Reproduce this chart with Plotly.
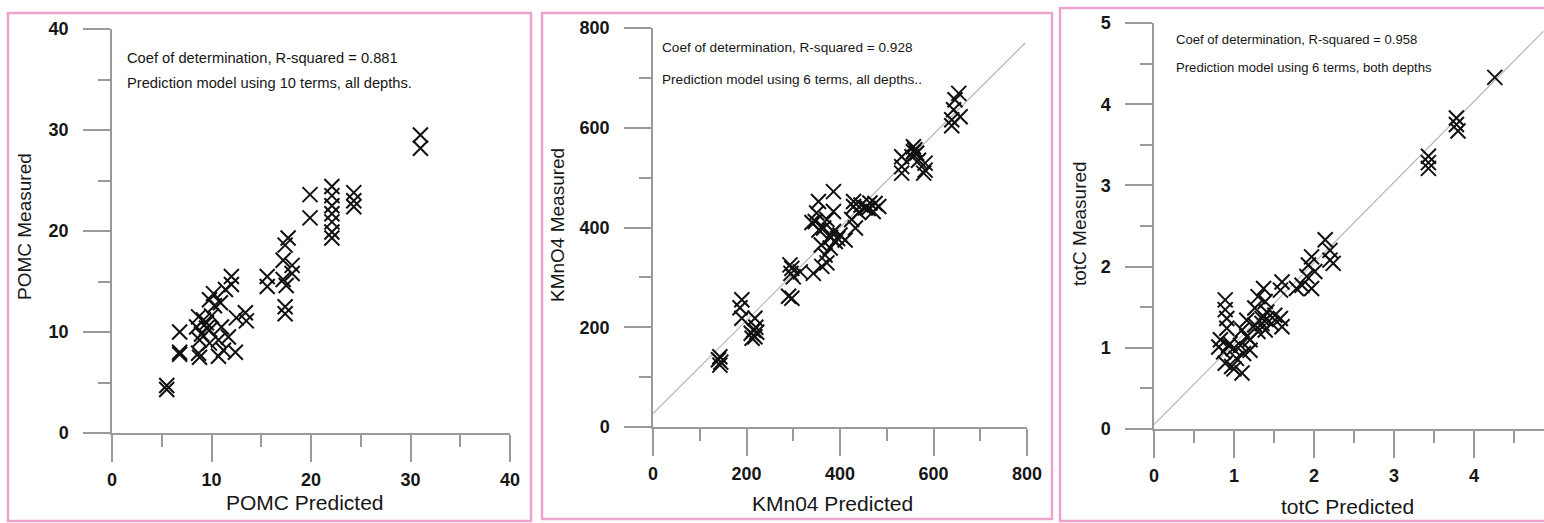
import plotly.graph_objects as go

W, H = 1544, 523

# ---------------- data ----------------
pomc_predicted = [31.0, 31.0, 24.3, 24.3, 24.3, 19.9, 19.9, 22.1, 22.1, 22.1, 22.1, 22.1, 22.1, 22.1,
                  17.7, 17.4, 17.2, 18.1, 18.1, 17.2, 17.5, 15.6, 15.6, 17.4, 17.4, 12.0, 12.0, 10.2,
                  9.8, 11.4, 10.9, 13.4, 13.5, 12.5, 8.7, 9.5, 8.5, 9.8, 11.0, 11.7, 8.8, 9.8, 6.8,
                  6.8, 6.8, 8.7, 11.2, 12.4, 10.7, 8.8, 10.7, 5.5, 5.5, 9.2, 10.3, 9.5, 10.0, 9.0]
pomc_measured = [29.5, 28.2, 23.8, 23.0, 22.4, 23.6, 21.3, 24.4, 23.5, 22.5, 21.7, 20.9, 19.9, 19.3,
                 19.3, 18.6, 17.1, 16.6, 15.8, 15.2, 14.6, 15.5, 14.5, 12.5, 11.8, 15.5, 14.7, 13.8,
                 13.2, 14.2, 12.9, 11.9, 11.1, 11.4, 11.5, 10.9, 10.5, 10.2, 10.5, 9.5, 9.2, 8.9, 10.0,
                 8.0, 7.8, 7.9, 8.2, 8.0, 7.6, 7.5, 9.2, 4.7, 4.3, 11.2, 12.6, 10.4, 11.6, 9.8]

kmno4_predicted = [654, 646, 657, 643, 639, 639, 557, 557, 564, 554, 568, 560, 582, 582, 579,
                   532, 532, 532, 386, 354, 386, 350, 347, 372, 365, 386, 400, 411, 390, 379,
                   368, 372, 361, 343, 429, 429, 425, 433, 464, 483, 454, 471, 445, 460, 475,
                   440, 297, 300, 297, 315, 293, 290, 295, 190, 186, 190, 218, 215, 218, 210,
                   222, 212, 220, 143, 143, 140, 145, 340, 355, 380, 395, 360]
kmno4_measured = [669, 656, 622, 636, 616, 604, 562, 552, 549, 542, 535, 556, 529, 515, 509,
                  542, 522, 509, 472, 452, 432, 429, 412, 416, 399, 392, 385, 375, 372, 359,
                  345, 329, 322, 308, 452, 442, 416, 399, 449, 442, 439, 432, 445, 438, 448,
                  430, 318, 301, 258, 311, 325, 262, 308, 255, 239, 218, 218, 194, 181, 188,
                  190, 178, 200, 141, 124, 135, 130, 410, 395, 380, 378, 365]
kmno4_fit_x = [0, 796]
kmno4_fit_y = [27, 770]

totc_predicted = [4.26, 3.78, 3.78, 3.80, 3.43, 3.43, 3.43, 2.14, 2.20, 2.20, 2.24, 1.97, 1.93,
                  2.01, 1.91, 1.85, 1.97, 1.78, 1.60, 1.58, 1.37, 1.30, 1.39, 1.26, 1.41, 1.51,
                  1.58, 1.60, 1.35, 1.26, 1.39, 1.47, 1.16, 1.10, 1.16, 0.89, 0.89, 0.91, 0.91,
                  0.83, 0.93, 0.99, 0.87, 0.81, 1.08, 1.12, 1.20, 1.03, 0.89, 0.97, 1.10, 1.00,
                  1.20, 0.95, 1.35, 1.40, 1.30]
totc_measured = [4.33, 3.83, 3.75, 3.67, 3.36, 3.28, 3.21, 2.33, 2.20, 2.08, 2.04, 2.12, 2.02,
                 1.94, 1.88, 1.77, 1.73, 1.73, 1.81, 1.71, 1.73, 1.63, 1.57, 1.49, 1.44, 1.40,
                 1.36, 1.26, 1.36, 1.28, 1.22, 1.30, 1.34, 1.22, 1.14, 1.59, 1.47, 1.36, 1.24,
                 1.10, 1.03, 0.99, 0.95, 1.01, 1.03, 0.93, 0.97, 0.87, 0.81, 0.77, 0.69, 0.74,
                 1.10, 1.05, 1.30, 1.35, 1.20]
totc_fit_x = [0, 4.87]
totc_fit_y = [0.053, 4.90]

x_titles = ["POMC Predicted", "KMn04 Predicted", "totC Predicted"]
y_titles = ["POMC Measured", "KMnO4 Measured", "totC Measured"]
notes = [
    ["Coef of determination, R-squared = 0.881", "Prediction model using 10 terms, all depths."],
    ["Coef of determination, R-squared = 0.928", "Prediction model using 6 terms, all depths.."],
    ["Coef of determination, R-squared = 0.958", "Prediction model using 6 terms, both depths"],
]

# ---------------- layout geometry (pixels) ----------------
areas = [(112, 510, 29, 433), (653, 1027, 28, 427), (1154, 1544, 23, 429)]
xranges = [[0, 40], [0, 800], [0, (1544 - 1154) / 80.0]]
yranges = [[0, 40], [0, 800], [0, 5]]
dticks = [10, 200, 1]
borders = [(8, 531, 13, 521), (542, 1052, 13, 519), (1060, 1550, 8, 521)]
note_pos = [(125, 58, 83, 14.7), (660, 48, 80, 13.6), (1174, 40, 68, 13.1)]
xtitle_pos = [(305, 502), (832, 503), (1347, 506)]
ytitle_pos = [(25, 227), (558, 225), (1080, 224)]

PINK = "#EBA3CD"
AXC = "#9a9a9a"
TXT = "#161616"
FONT = "Liberation Sans, Arial, sans-serif"

fig = go.Figure()

mk = dict(symbol="x-thin-open", size=15, color="#111111", line=dict(width=2, color="#111111"))

fig.add_trace(go.Scatter(x=pomc_predicted, y=pomc_measured, mode="markers", marker=mk,
                         xaxis="x", yaxis="y", showlegend=False))
fig.add_trace(go.Scatter(x=kmno4_fit_x, y=kmno4_fit_y, mode="lines",
                         line=dict(color="#b5b5b5", width=1.2), xaxis="x2", yaxis="y2", showlegend=False))
fig.add_trace(go.Scatter(x=kmno4_predicted, y=kmno4_measured, mode="markers", marker=mk,
                         xaxis="x2", yaxis="y2", showlegend=False))
fig.add_trace(go.Scatter(x=totc_fit_x, y=totc_fit_y, mode="lines",
                         line=dict(color="#b5b5b5", width=1.2), xaxis="x3", yaxis="y3", showlegend=False))
fig.add_trace(go.Scatter(x=totc_predicted, y=totc_measured, mode="markers", marker=mk,
                         xaxis="x3", yaxis="y3", showlegend=False))

layout = dict(
    template="none",
    width=W, height=H, margin=dict(l=0, r=0, t=0, b=0, pad=0, autoexpand=False),
    paper_bgcolor="white", plot_bgcolor="white",
    font=dict(family=FONT, color=TXT),
)

shapes = []
annotations = []
for i in range(3):
    xl, xr, yt, yb = areas[i]
    sfx = "" if i == 0 else str(i + 1)
    common = dict(showline=True, linecolor=AXC, linewidth=1.5, ticks="outside", ticklen=27,
                  tickwidth=1.5, tickcolor=AXC, showgrid=False, zeroline=False, automargin=False,
                  tickfont=dict(family=FONT, size=18, color=TXT, weight="bold"),
                  minor=dict(ticks="outside", ticklen=12, tickwidth=1.5, tickcolor=AXC,
                             dtick=dticks[i] / 2, showgrid=False))
    layout["xaxis" + sfx] = dict(common, domain=[xl / W, xr / W], range=xranges[i],
                                 dtick=dticks[i], tick0=0, anchor="y" + sfx,
                                 ticklabelstandoff=3)
    layout["yaxis" + sfx] = dict(common, domain=[1 - yb / H, 1 - yt / H], range=yranges[i],
                                 dtick=dticks[i], tick0=0, anchor="x" + sfx,
                                 ticklabelstandoff=11)
    bx0, bx1, by0, by1 = borders[i]
    shapes.append(dict(type="rect", xref="paper", yref="paper",
                       x0=bx0 / W, x1=bx1 / W, y0=1 - by1 / H, y1=1 - by0 / H,
                       line=dict(color=PINK, width=2.5), fillcolor="rgba(0,0,0,0)", layer="above"))
    nx, ny1, ny2, nsz = note_pos[i]
    for txt, ny in zip(notes[i], (ny1, ny2)):
        annotations.append(dict(text=txt, x=nx / W, y=1 - ny / H, xref="paper", yref="paper",
                                xanchor="left", yanchor="middle", showarrow=False,
                                font=dict(family=FONT, size=nsz, color=TXT)))
    tx, ty = xtitle_pos[i]
    annotations.append(dict(text=x_titles[i], x=tx / W, y=1 - ty / H, xref="paper", yref="paper",
                            xanchor="center", yanchor="middle", showarrow=False,
                            font=dict(family=FONT, size=21, color=TXT)))
    vx, vy = ytitle_pos[i]
    annotations.append(dict(text=y_titles[i], x=vx / W, y=1 - vy / H, xref="paper", yref="paper",
                            xanchor="center", yanchor="middle", showarrow=False, textangle=-90,
                            font=dict(family=FONT, size=19, color=TXT)))

layout["shapes"] = shapes
layout["annotations"] = annotations
fig.update_layout(**layout)
fig.write_html("out.html")
